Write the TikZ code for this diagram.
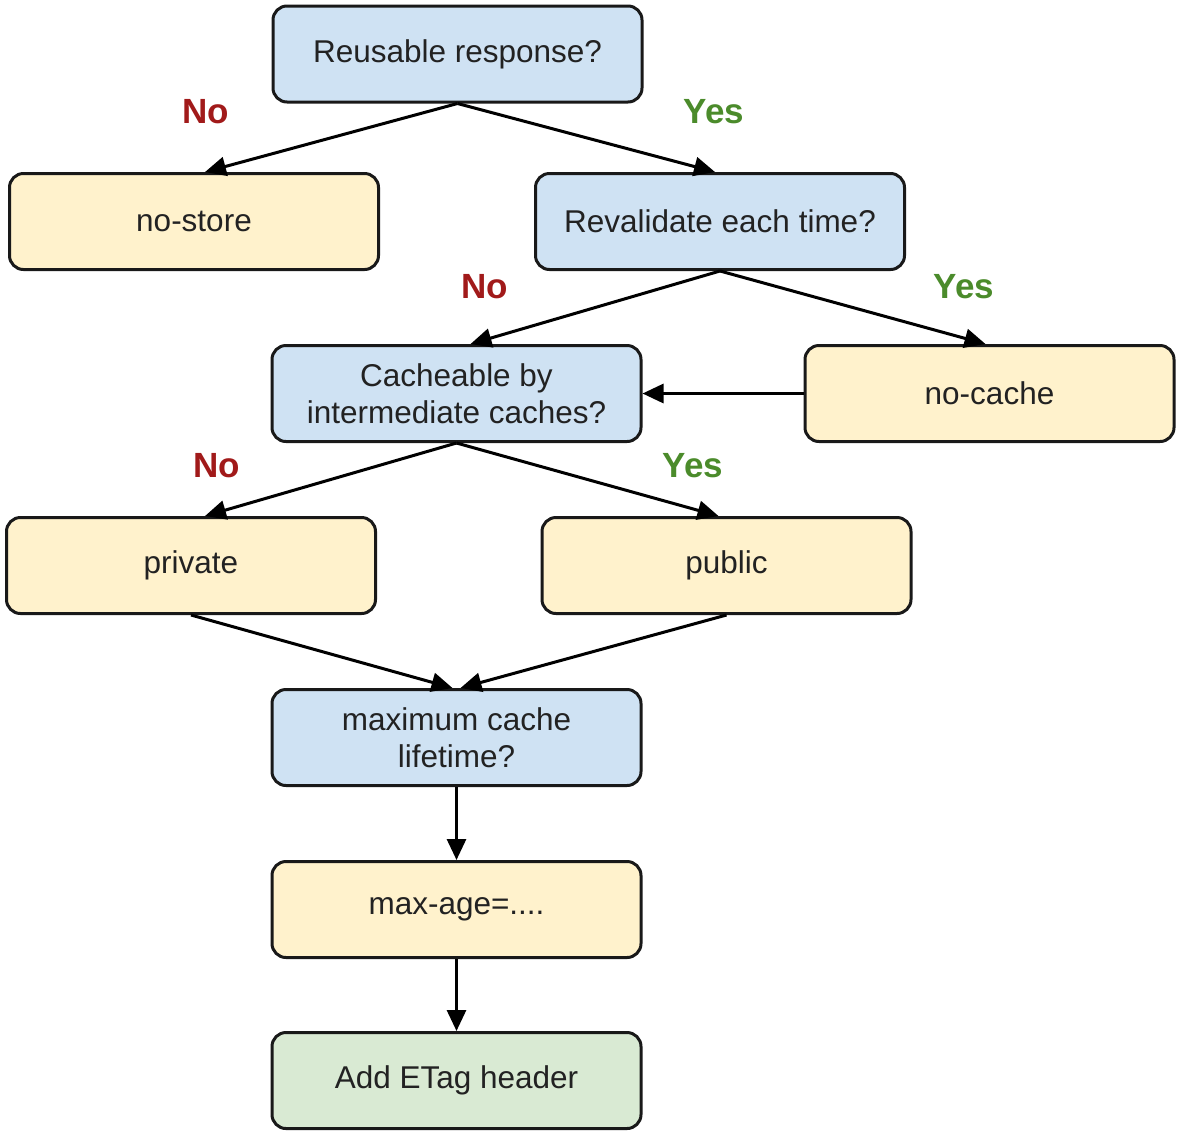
\documentclass[tikz,border=0pt]{standalone}
\usepackage{fontspec}
\setmainfont{Liberation Sans}
\usetikzlibrary{arrows.meta,calc}
\definecolor{qblue}{HTML}{CFE2F3}
\definecolor{ayellow}{HTML}{FFF2CC}
\definecolor{agreen}{HTML}{D9EAD3}
\definecolor{nored}{HTML}{A11A1A}
\definecolor{yesgreen}{HTML}{4B8B2B}
\definecolor{txt}{HTML}{222222}
\begin{document}
\begin{tikzpicture}[x=1pt,y=-1pt,
  box/.style={draw=black!90, line width=3pt, rounded corners=14pt,
    minimum width=369pt, minimum height=96pt, inner sep=0pt,
    align=center, text=txt, font=\fontsize{31.5}{37}\selectfont},
  qbox/.style={box, fill=qblue},
  abox/.style={box, fill=ayellow},
  gbox/.style={box, fill=agreen},
  conn/.style={line width=3pt, -{Triangle[length=21pt,width=19pt]}},
  nolab/.style={text=nored, font=\bfseries\fontsize{35}{40}\selectfont},
  yeslab/.style={text=yesgreen, font=\bfseries\fontsize{35}{40}\selectfont}]
\useasboundingbox (0,0) rectangle (1180,1136);
\node[qbox] (reuse) at (457.5,54) {Reusable response?};
\node[abox] (nostore) at (194,221.5) {no-store};
\node[qbox] (reval) at (720,221.5) {Revalidate each time?};
\node[qbox] (cache) at (456.5,393.5) {Cacheable by\\intermediate caches?};
\node[abox] (nocache) at (989.5,393.5) {no-cache};
\node[abox] (private) at (191,565.5) {private};
\node[abox] (public) at (726.5,565.5) {public};
\node[qbox] (life) at (456.5,737.5) {maximum cache\\lifetime?};
\node[abox] (maxage) at (456.5,909.5) {max-age=....};
\node[gbox] (etag) at (456.5,1080.5) {Add ETag header};

\draw[conn] (reuse.south) -- ($(nostore.north)+(11,0)$);
\draw[conn] (reuse.south) -- ($(reval.north)+(-5,0)$);
\draw[conn] (reval.south) -- ($(cache.north)+(14,0)$);
\draw[conn] (reval.south) -- ($(nocache.north)+(-4,0)$);
\draw[conn] (nocache.west) -- (cache.east);
\draw[conn] (cache.south) -- ($(private.north)+(14,0)$);
\draw[conn] (cache.south) -- ($(public.north)+(-8,0)$);
\draw[conn] (private.south) -- ($(life.north)+(-4,0)$);
\draw[conn] (public.south) -- ($(life.north)+(4,0)$);
\draw[conn] (life.south) -- (maxage.north);
\draw[conn] (maxage.south) -- (etag.north);

\node[nolab] (l1) at (206,112) {No};
\node[yeslab] (l2) at (714,112) {Yes};
\node[nolab] (l3) at (485,287) {No};
\node[yeslab] (l4) at (964,287) {Yes};
\node[nolab] (l5) at (217,466) {No};
\node[yeslab] (l6) at (693,466) {Yes};
\end{tikzpicture}
\end{document}
